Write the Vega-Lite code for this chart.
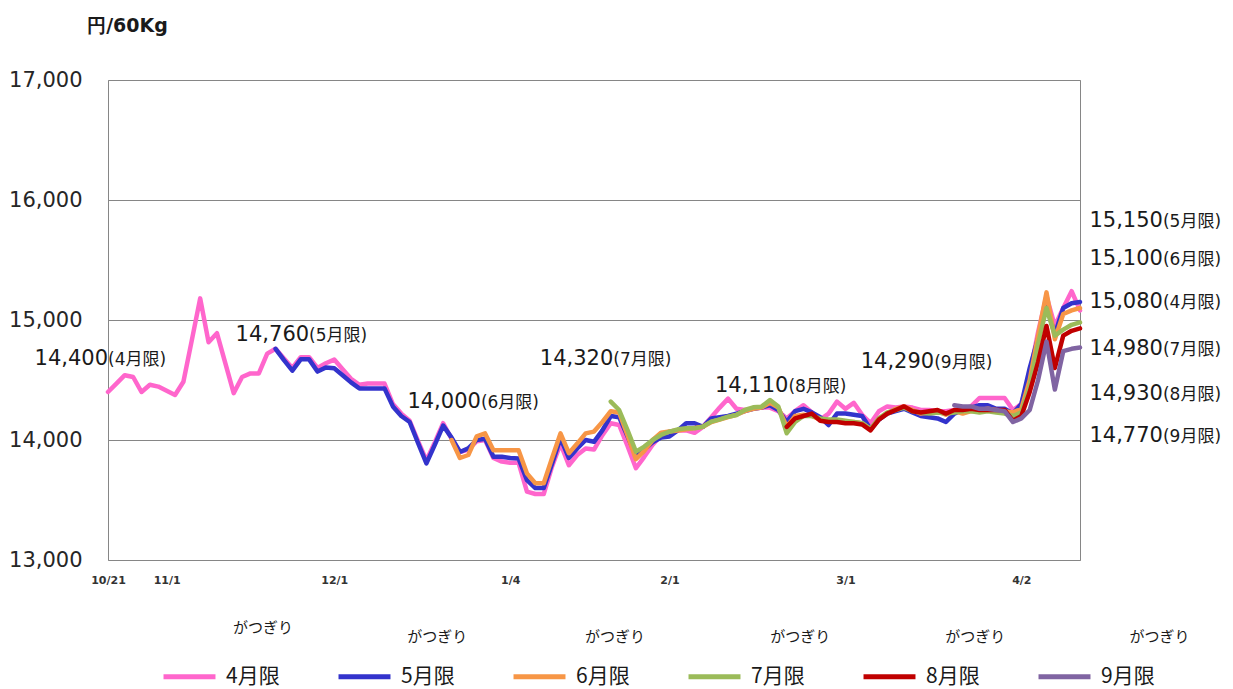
{
"$schema":"https://vega.github.io/schema/vega-lite/v6.json",
"width":972,"height":480,
"autosize":{"type":"none"},
"padding":{"left":108,"top":80,"right":153,"bottom":129},
"background":"white",
"config":{"view":{"stroke":"#868686","strokeWidth":1}},
"layer":[
{
"data":{"values":[
{"t":0,"d":"10/21","4月限":14400},{"t":1,"d":"10/24","4月限":14470},{"t":2,"d":"10/25","4月限":14540},{"t":3,"d":"10/26","4月限":14525},{"t":4,"d":"10/27","4月限":14400},{"t":5,"d":"10/28","4月限":14460},{"t":6,"d":"10/31","4月限":14445},
{"t":7,"d":"11/1","4月限":14410},{"t":8,"d":"11/2","4月限":14375},{"t":9,"d":"11/4","4月限":14485},{"t":10,"d":"11/7","4月限":14830},{"t":11,"d":"11/8","4月限":15180},{"t":12,"d":"11/9","4月限":14815},{"t":13,"d":"11/10","4月限":14890},{"t":14,"d":"11/11","4月限":14640},{"t":15,"d":"11/14","4月限":14390},{"t":16,"d":"11/15","4月限":14525},{"t":17,"d":"11/16","4月限":14555},{"t":18,"d":"11/17","4月限":14555},{"t":19,"d":"11/18","4月限":14720},
{"t":20,"d":"11/21","4月限":14760,"5月限":14760},{"t":21,"d":"11/22","4月限":14680,"5月限":14665},{"t":22,"d":"11/24","4月限":14600,"5月限":14578},{"t":23,"d":"11/25","4月限":14690,"5月限":14672},{"t":24,"d":"11/28","4月限":14690,"5月限":14672},{"t":25,"d":"11/29","4月限":14600,"5月限":14570},{"t":26,"d":"11/30","4月限":14640,"5月限":14605},
{"t":27,"d":"12/1","4月限":14670,"5月限":14597},{"t":28,"d":"12/2","4月限":14590,"5月限":14540},{"t":29,"d":"12/5","4月限":14510,"5月限":14480},{"t":30,"d":"12/6","4月限":14460,"5月限":14430},{"t":31,"d":"12/7","4月限":14470,"5月限":14430},{"t":32,"d":"12/8","4月限":14470,"5月限":14430},{"t":33,"d":"12/9","4月限":14470,"5月限":14430},{"t":34,"d":"12/12","4月限":14300,"5月限":14280},{"t":35,"d":"12/13","4月限":14220,"5月限":14200},{"t":36,"d":"12/14","4月限":14160,"5月限":14150},{"t":37,"d":"12/15","4月限":13990,"5月限":13975},{"t":38,"d":"12/16","4月限":13830,"5月限":13805},{"t":39,"d":"12/19","4月限":13980,"5月限":13960},{"t":40,"d":"12/20","4月限":14140,"5月限":14120},
{"t":41,"d":"12/21","4月限":14010,"5月限":14020,"6月限":14000},{"t":42,"d":"12/22","4月限":13900,"5月限":13900,"6月限":13850},{"t":43,"d":"12/26","4月限":13920,"5月限":13930,"6月限":13875},{"t":44,"d":"12/27","4月限":13990,"5月限":14000,"6月限":14030},{"t":45,"d":"12/28","4月限":14000,"5月限":14010,"6月限":14055},{"t":46,"d":"12/29","4月限":13850,"5月限":13860,"6月限":13915},{"t":47,"d":"12/30","4月限":13820,"5月限":13860,"6月限":13915},
{"t":48,"d":"1/4","4月限":13810,"5月限":13850,"6月限":13915},{"t":49,"d":"1/5","4月限":13810,"5月限":13845,"6月限":13915},{"t":50,"d":"1/6","4月限":13570,"5月限":13665,"6月限":13720},{"t":51,"d":"1/10","4月限":13550,"5月限":13600,"6月限":13640},{"t":52,"d":"1/11","4月限":13550,"5月限":13600,"6月限":13640},{"t":53,"d":"1/12","4月限":13780,"5月限":13805,"6月限":13850},{"t":54,"d":"1/13","4月限":13970,"5月限":14015,"6月限":14055},{"t":55,"d":"1/16","4月限":13790,"5月限":13850,"6月限":13890},{"t":56,"d":"1/17","4月限":13875,"5月限":13930,"6月限":13970},{"t":57,"d":"1/18","4月限":13930,"5月限":14000,"6月限":14055},{"t":58,"d":"1/19","4月限":13920,"5月限":13985,"6月限":14070},{"t":59,"d":"1/20","4月限":14040,"5月限":14080,"6月限":14150},
{"t":60,"d":"1/23","4月限":14140,"5月限":14200,"6月限":14240,"7月限":14320},{"t":61,"d":"1/24","4月限":14125,"5月限":14190,"6月限":14230,"7月限":14250},{"t":62,"d":"1/25","4月限":13950,"5月限":14030,"6月限":14040,"7月限":14083},{"t":63,"d":"1/26","4月限":13765,"5月限":13870,"6月限":13840,"7月限":13903},{"t":64,"d":"1/27","4月限":13860,"5月限":13920,"6月限":13910,"7月限":13945},{"t":65,"d":"1/30","4月限":13960,"5月限":13980,"6月限":14000,"7月限":14000},{"t":66,"d":"1/31","4月限":14040,"5月限":14020,"6月限":14060,"7月限":14042},
{"t":67,"d":"2/1","4月限":14070,"5月限":14030,"6月限":14070,"7月限":14069},{"t":68,"d":"2/2","4月限":14080,"5月限":14080,"6月限":14080,"7月限":14089},{"t":69,"d":"2/3","4月限":14080,"5月限":14140,"6月限":14090,"7月限":14097},{"t":70,"d":"2/6","4月限":14060,"5月限":14140,"6月限":14100,"7月限":14097},{"t":71,"d":"2/7","4月限":14110,"5月限":14110,"6月限":14110,"7月限":14111},{"t":72,"d":"2/8","4月限":14190,"5月限":14180,"6月限":14150,"7月限":14153},{"t":73,"d":"2/9","4月限":14270,"5月限":14190,"6月限":14170,"7月限":14172},{"t":74,"d":"2/10","4月限":14345,"5月限":14200,"6月限":14190,"7月限":14194},{"t":75,"d":"2/13","4月限":14260,"5月限":14220,"6月限":14210,"7月限":14208},{"t":76,"d":"2/14","4月限":14250,"5月限":14240,"6月限":14240,"7月限":14250},{"t":77,"d":"2/15","4月限":14260,"5月限":14260,"6月限":14260,"7月限":14272},{"t":78,"d":"2/16","4月限":14270,"5月限":14270,"6月限":14270,"7月限":14278},{"t":79,"d":"2/17","4月限":14270,"5月限":14290,"6月限":14310,"7月限":14333},{"t":80,"d":"2/20","4月限":14240,"5月限":14250,"6月限":14270,"7月限":14278},
{"t":81,"d":"2/21","4月限":14180,"5月限":14150,"6月限":14110,"7月限":14056,"8月限":14110},{"t":82,"d":"2/22","4月限":14240,"5月限":14240,"6月限":14200,"7月限":14150,"8月限":14180},{"t":83,"d":"2/23","4月限":14290,"5月限":14260,"6月限":14210,"7月限":14200,"8月限":14200},{"t":84,"d":"2/24","4月限":14230,"5月限":14230,"6月限":14200,"7月限":14200,"8月限":14220},{"t":85,"d":"2/27","4月限":14170,"5月限":14190,"6月限":14170,"7月限":14180,"8月限":14160},{"t":86,"d":"2/28","4月限":14220,"5月限":14125,"6月限":14160,"7月限":14170,"8月限":14150},{"t":87,"d":"2/29","4月限":14320,"5月限":14220,"6月限":14160,"7月限":14170,"8月限":14150},
{"t":88,"d":"3/1","4月限":14260,"5月限":14220,"6月限":14150,"7月限":14160,"8月限":14140},{"t":89,"d":"3/2","4月限":14310,"5月限":14210,"6月限":14150,"7月限":14150,"8月限":14140},{"t":90,"d":"3/5","4月限":14210,"5月限":14200,"6月限":14140,"7月限":14140,"8月限":14130},{"t":91,"d":"3/6","4月限":14140,"5月限":14090,"6月限":14090,"7月限":14090,"8月限":14080},{"t":92,"d":"3/7","4月限":14240,"5月限":14170,"6月限":14180,"7月限":14180,"8月限":14170},{"t":93,"d":"3/8","4月限":14280,"5月限":14220,"6月限":14220,"7月限":14230,"8月限":14220},{"t":94,"d":"3/9","4月限":14270,"5月限":14240,"6月限":14260,"7月限":14250,"8月限":14250},{"t":95,"d":"3/12","4月限":14280,"5月限":14260,"6月限":14280,"7月限":14270,"8月限":14280},{"t":96,"d":"3/13","4月限":14270,"5月限":14230,"6月限":14250,"7月限":14240,"8月限":14240},{"t":97,"d":"3/14","4月限":14250,"5月限":14200,"6月限":14220,"7月限":14230,"8月限":14230},{"t":98,"d":"3/15","4月限":14250,"5月限":14190,"6月限":14230,"7月限":14220,"8月限":14240},{"t":99,"d":"3/16","4月限":14240,"5月限":14180,"6月限":14240,"7月限":14230,"8月限":14250},{"t":100,"d":"3/19","4月限":14240,"5月限":14150,"6月限":14210,"7月限":14220,"8月限":14220},
{"t":101,"d":"3/21","4月限":14250,"5月限":14220,"6月限":14240,"7月限":14230,"8月限":14250,"9月限":14290},{"t":102,"d":"3/22","4月限":14260,"5月限":14250,"6月限":14220,"7月限":14240,"8月限":14250,"9月限":14280},{"t":103,"d":"3/23","4月限":14280,"5月限":14270,"6月限":14240,"7月限":14240,"8月限":14260,"9月限":14280},{"t":104,"d":"3/26","4月限":14350,"5月限":14290,"6月限":14250,"7月限":14230,"8月限":14250,"9月限":14260},{"t":105,"d":"3/27","4月限":14350,"5月限":14290,"6月限":14260,"7月限":14240,"8月限":14250,"9月限":14260},{"t":106,"d":"3/28","4月限":14350,"5月限":14260,"6月限":14250,"7月限":14230,"8月限":14250,"9月限":14250},{"t":107,"d":"3/29","4月限":14350,"5月限":14260,"6月限":14240,"7月限":14220,"8月限":14250,"9月限":14240},{"t":108,"d":"3/30","4月限":14250,"5月限":14220,"6月限":14230,"7月限":14200,"8月限":14160,"9月限":14150},
{"t":109,"d":"4/2","4月限":14300,"5月限":14300,"6月限":14260,"7月限":14230,"8月限":14200,"9月限":14180},{"t":110,"d":"4/3","4月限":14550,"5月限":14600,"6月限":14500,"7月限":14450,"8月限":14400,"9月限":14250},{"t":111,"d":"4/4","4月限":14900,"5月限":14850,"6月限":14870,"7月限":14800,"8月限":14650,"9月限":14500},{"t":112,"d":"4/5","4月限":15200,"5月限":15120,"6月限":15230,"7月限":15100,"8月限":14950,"9月限":14820},{"t":113,"d":"4/6","4月限":14950,"5月限":14880,"6月限":14840,"7月限":14870,"8月限":14600,"9月限":14420},{"t":114,"d":"4/9","4月限":15100,"5月限":15100,"6月限":15050,"7月限":14920,"8月限":14870,"9月限":14740},{"t":115,"d":"4/10","4月限":15240,"5月限":15140,"6月限":15080,"7月限":14960,"8月限":14910,"9月限":14760},{"t":116,"d":"4/11","4月限":15080,"5月限":15150,"6月限":15100,"7月限":14980,"8月限":14930,"9月限":14770}
]},
"transform":[{"fold":["4月限","5月限","6月限","7月限","8月限","9月限"],"as":["contract","price"]},{"filter":"isValid(datum.price)"}],
"mark":{"type":"line","strokeWidth":4.5,"strokeJoin":"round","strokeCap":"round"},
"encoding":{
"x":{"field":"t","type":"quantitative","scale":{"domain":[0,116],"nice":false,"zero":false},
"axis":{"values":[0,7,27,48,67,88,109],"labelExpr":"datum.value==0?'10/21':datum.value==7?'11/1':datum.value==27?'12/1':datum.value==48?'1/4':datum.value==67?'2/1':datum.value==88?'3/1':'4/2'","title":null,"grid":false,"ticks":false,"tickSize":0,"domain":false,"labelFlush":false,"labelOverlap":false,"labelPadding":14,"labelFont":"DejaVu Sans","labelFontSize":11,"labelFontWeight":"bold","labelColor":"#333333"}},
"y":{"field":"price","type":"quantitative","scale":{"domain":[13000,17000],"nice":false,"zero":false},
"axis":{"values":[13000,14000,15000,16000,17000],"format":",.0f","title":"円/60Kg","titleAngle":0,"titleX":19,"titleY":-55,"titleAlign":"center","titleBaseline":"middle","titleFont":"DejaVu Sans","titleFontSize":19,"titleFontWeight":"bold","titleColor":"#1a1a1a","labelFont":"DejaVu Sans","labelFontSize":21,"labelColor":"#262626","labelPadding":26,"ticks":false,"tickSize":0,"domain":false,"grid":true,"gridColor":"#868686","gridWidth":1}},
"color":{"field":"contract","type":"nominal","sort":["4月限","5月限","6月限","7月限","8月限","9月限"],
"scale":{"domain":["4月限","5月限","6月限","7月限","8月限","9月限"],"range":["#FF66CC","#3333CC","#F79646","#9BBB59","#C00000","#8064A2"]},
"legend":{"title":null,"orient":"none","direction":"horizontal","columns":6,"legendX":53,"legendY":568,"symbolType":"stroke","symbolSize":2700,"symbolStrokeWidth":5,"labelFont":"Noto Sans CJK JP","labelFontSize":21,"labelColor":"#1a1a1a","labelOffset":8,"columnPadding":48}}
}
},
{
"data":{"values":[
{"t":0,"price":14629,"num":"14,400","par":"(4月限)"},
{"t":24,"price":14825,"num":"14,760","par":"(5月限)"},
{"t":44.5,"price":14267,"num":"14,000","par":"(6月限)"},
{"t":60.3,"price":14621,"num":"14,320","par":"(7月限)"},
{"t":81.2,"price":14400,"num":"14,110","par":"(8月限)"},
{"t":98.6,"price":14604,"num":"14,290","par":"(9月限)"},
{"t":125.9,"price":15778,"num":"15,150","par":"(5月限)"},
{"t":125.9,"price":15458,"num":"15,100","par":"(6月限)"},
{"t":125.9,"price":15100,"num":"15,080","par":"(4月限)"},
{"t":125.9,"price":14708,"num":"14,980","par":"(7月限)"},
{"t":125.9,"price":14333,"num":"14,930","par":"(8月限)"},
{"t":125.9,"price":13986,"num":"14,770","par":"(9月限)"}
]},
"layer":[
{"mark":{"type":"text","align":"right","baseline":"alphabetic","font":"DejaVu Sans","fontSize":21,"color":"#1a1a1a"},
"encoding":{"x":{"field":"t","type":"quantitative","scale":{"domain":[0,116],"nice":false,"zero":false}},"y":{"field":"price","type":"quantitative","scale":{"domain":[13000,17000],"nice":false,"zero":false}},"text":{"field":"num"}}},
{"mark":{"type":"text","align":"left","baseline":"alphabetic","font":"DejaVu Sans, Noto Sans CJK JP","fontSize":17,"color":"#1a1a1a"},
"encoding":{"x":{"field":"t","type":"quantitative","scale":{"domain":[0,116],"nice":false,"zero":false}},"y":{"field":"price","type":"quantitative","scale":{"domain":[13000,17000],"nice":false,"zero":false}},"text":{"field":"par"}}}
]
},
{
"data":{"values":[
{"t":18.5,"price":12433,"s":"がつぎり"},
{"t":39.3,"price":12358,"s":"がつぎり"},
{"t":60.5,"price":12358,"s":"がつぎり"},
{"t":82.6,"price":12358,"s":"がつぎり"},
{"t":103.5,"price":12358,"s":"がつぎり"},
{"t":125.5,"price":12358,"s":"がつぎり"}
]},
"mark":{"type":"text","align":"center","baseline":"middle","font":"Noto Sans CJK JP","fontSize":15,"color":"#1a1a1a"},
"encoding":{"x":{"field":"t","type":"quantitative","scale":{"domain":[0,116],"nice":false,"zero":false}},"y":{"field":"price","type":"quantitative","scale":{"domain":[13000,17000],"nice":false,"zero":false}},"text":{"field":"s"}}
}
]
}
